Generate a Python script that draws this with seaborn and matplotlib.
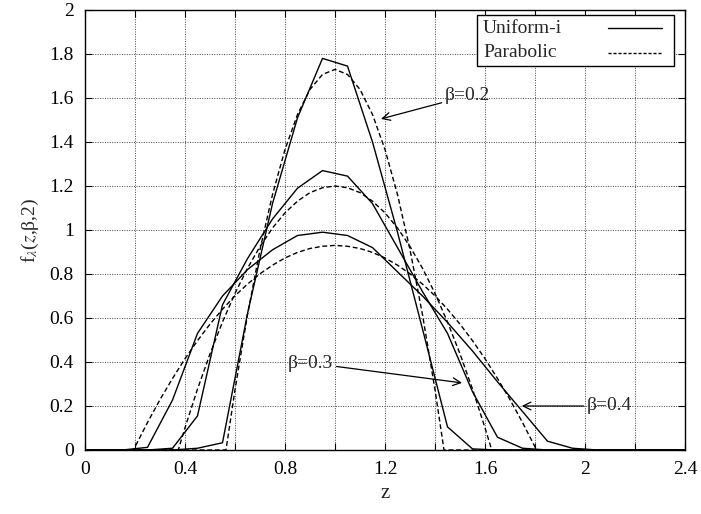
import numpy as np
import pandas as pd
import matplotlib
matplotlib.use("Agg")
import matplotlib.pyplot as plt
from matplotlib.patches import Rectangle
import seaborn as sns

# Uniform-i (piecewise linear, bin centres)
z_uni = [0.0, 0.05, 0.15, 0.25, 0.35, 0.45, 0.55, 0.65, 0.75, 0.85, 0.95, 1.05,
         1.15, 1.25, 1.35, 1.45, 1.55, 1.65, 1.75, 1.85, 1.95, 2.05, 2.4]
uni_b02 = [0, 0, 0, 0, 0, 0.008, 0.033, 0.62, 1.12, 1.51, 1.78, 1.745,
           1.40, 0.99, 0.55, 0.105, 0.005, 0, 0, 0, 0, 0, 0]
uni_b03 = [0, 0, 0, 0, 0.008, 0.155, 0.66, 0.87, 1.05, 1.19, 1.27, 1.245,
           1.12, 0.92, 0.72, 0.53, 0.265, 0.058, 0.008, 0, 0, 0, 0]
uni_b04 = [0, 0, 0, 0.012, 0.227, 0.53, 0.70, 0.82, 0.91, 0.975, 0.99, 0.975,
           0.92, 0.81, 0.70, 0.58, 0.45, 0.31, 0.175, 0.04, 0.008, 0, 0]

# Parabolic
z_par_b02 = [0.0, 0.564, 0.6, 0.65, 0.7, 0.75, 0.8, 0.85, 0.9, 0.95, 1.0, 1.05, 1.1,
             1.15, 1.2, 1.25, 1.3, 1.35, 1.4, 1.436, 2.4]
par_b02 = [0, 0, 0.274, 0.615, 0.911, 1.161, 1.366, 1.525, 1.639, 1.707, 1.73, 1.707,
           1.639, 1.525, 1.366, 1.161, 0.911, 0.615, 0.274, 0, 0]
z_par_b03 = [0.0, 0.373, 0.4, 0.45, 0.5, 0.55, 0.6, 0.65, 0.7, 0.75, 0.8, 0.85, 0.9, 0.95,
             1.0, 1.05, 1.1, 1.15, 1.2, 1.25, 1.3, 1.35, 1.4, 1.45, 1.5, 1.55, 1.6,
             1.627, 2.4]
par_b03 = [0, 0, 0.101, 0.277, 0.437, 0.582, 0.712, 0.826, 0.925, 1.009, 1.078, 1.131,
           1.170, 1.192, 1.2, 1.192, 1.170, 1.131, 1.078, 1.009, 0.925, 0.826, 0.712,
           0.582, 0.437, 0.277, 0.101, 0, 0]
z_par_b04 = [0.0, 0.194, 0.2, 0.25, 0.3, 0.35, 0.4, 0.45, 0.5, 0.55, 0.6, 0.65, 0.7, 0.75,
             0.8, 0.85, 0.9, 0.95, 1.0, 1.05, 1.1, 1.15, 1.2, 1.25, 1.3, 1.35, 1.4, 1.45,
             1.5, 1.55, 1.6, 1.65, 1.7, 1.75, 1.8, 1.806, 2.4]
par_b04 = [0, 0, 0.014, 0.125, 0.229, 0.325, 0.415, 0.497, 0.572, 0.640, 0.701, 0.754,
           0.801, 0.840, 0.873, 0.898, 0.916, 0.926, 0.93, 0.926, 0.916, 0.898, 0.873,
           0.840, 0.801, 0.754, 0.701, 0.640, 0.572, 0.497, 0.415, 0.325, 0.229, 0.125,
           0.014, 0, 0]

x_ticks = [0, 0.2, 0.4, 0.6, 0.8, 1.0, 1.2, 1.4, 1.6, 1.8, 2.0, 2.2, 2.4]
x_ticklabels = ["0", "", "0.4", "", "0.8", "", "1.2", "", "1.6", "", "2", "", "2.4"]
y_ticks = [0, 0.2, 0.4, 0.6, 0.8, 1.0, 1.2, 1.4, 1.6, 1.8, 2.0]
y_ticklabels = ["0", "0.2", "0.4", "0.6", "0.8", "1", "1.2", "1.4", "1.6", "1.8", "2"]
legend_labels = ["Uniform-i", "Parabolic"]

sns.set_style("ticks")
plt.rcParams["font.family"] = ["Liberation Serif", "DejaVu Serif"]
plt.rcParams["mathtext.fontset"] = "stix"
plt.rcParams["font.size"] = 14

fig = plt.figure(figsize=(7.01, 5.14), dpi=100)
ax = fig.add_axes([85 / 701, 64 / 514, 600 / 701, 440 / 514])

dash = (0, (3.5, 2))
for y in [uni_b02, uni_b03, uni_b04]:
    sns.lineplot(x=z_uni, y=y, ax=ax, color="black", linewidth=1.0, sort=False,
                 estimator=None)
for z, y in [(z_par_b02, par_b02), (z_par_b03, par_b03), (z_par_b04, par_b04)]:
    sns.lineplot(x=z, y=y, ax=ax, color="black", linewidth=1.0, linestyle=dash,
                 sort=False, estimator=None)

ax.set_xlim(0, 2.4)
ax.set_ylim(0, 2)
ax.set_xticks(x_ticks)
ax.set_xticklabels(x_ticklabels)
ax.set_yticks(y_ticks)
ax.set_yticklabels(y_ticklabels)
ax.tick_params(direction="in", length=5, width=0.8, top=True, right=True,
               labelsize=14, colors="black", pad=8)
ax.grid(True, linestyle=(0, (1, 1.5)), linewidth=0.7, color="#444444")
for s in ax.spines.values():
    s.set_color("black")
    s.set_linewidth(1.0)

ax.set_xlabel("z", fontsize=15, labelpad=4)
ax.set_ylabel(r"f$_{\lambda}$($z$,β,2)", fontsize=14, labelpad=6)

# gnuplot-style key: text on the left, line sample on the right
ax.add_patch(Rectangle((0.6533, 0.8727), 0.3284, 0.1159, transform=ax.transAxes,
                       facecolor="white", edgecolor="black", linewidth=1.0, zorder=5))
key_y = [0.959, 0.9023]
key_styles = ["-", (0, (2.2, 1.4))]
for lab, ky, ls in zip(legend_labels, key_y, key_styles):
    ax.text(0.6633, ky, lab, transform=ax.transAxes, fontsize=14, va="center",
            ha="left", zorder=6)
    ax.plot([0.8717, 0.9617], [ky, ky], transform=ax.transAxes, color="black",
            linewidth=1.0, linestyle=ls, zorder=6)

arrow = dict(arrowstyle="->", color="black", lw=0.9, shrinkA=0, shrinkB=0,
             mutation_scale=14)
ax.annotate("β=0.2", xy=(1.184, 1.505), xytext=(1.44, 1.61), fontsize=14,
            va="center", ha="left", arrowprops=arrow)
ax.annotate("β=0.3", xy=(1.508, 0.305), xytext=(0.812, 0.395), fontsize=14,
            va="center", ha="left", arrowprops=arrow)
ax.annotate("β=0.4", xy=(1.747, 0.2), xytext=(2.008, 0.2), fontsize=14,
            va="center", ha="left", arrowprops=arrow)

fig.savefig("out.png", dpi=100)
